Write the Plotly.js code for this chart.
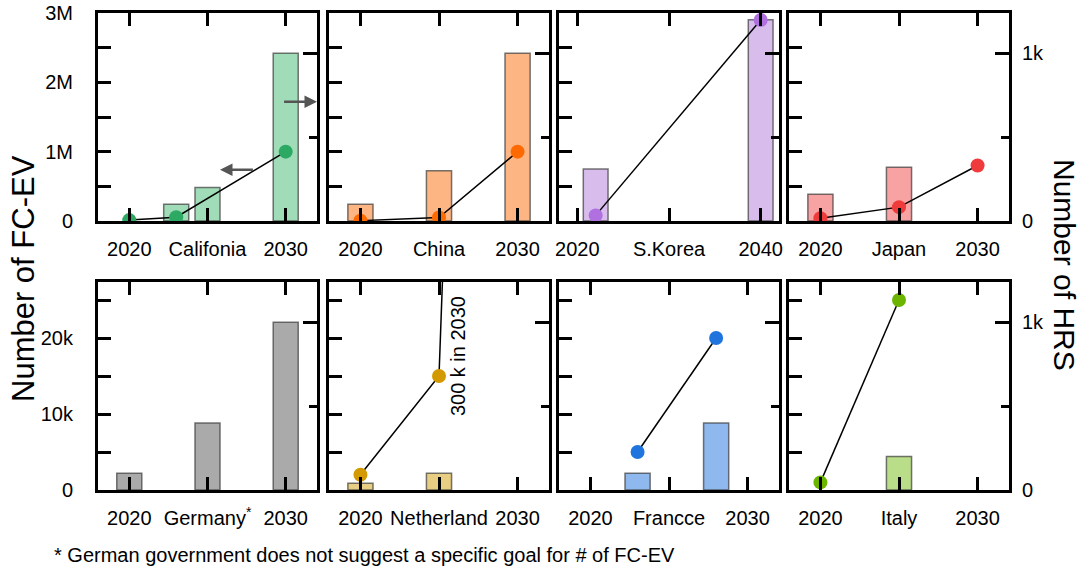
<!DOCTYPE html>
<html>
<head>
<meta charset="utf-8">
<script src="https://cdn.plot.ly/plotly-3.0.1.min.js"></script>
<style>html,body{margin:0;padding:0;background:#fff;} #chart{width:1084px;height:572px;}</style>
</head>
<body>
<div id="chart"></div>
<script>
// ---- Data (HRS = bars on right axis, FC-EV = circles on left axis) ----
const countries = ['Califonia', 'China', 'S.Korea', 'Japan', 'Germany<sup>*</sup>', 'Netherland', 'Francce', 'Italy'];
const endYearLabels = ['2030', '2030', '2040', '2030', '2030', '2030', '2030', '2030'];

const caHrsYears = [2023, 2025, 2030];
const caHrs = [100, 200, 1000];
const caEvYears = [2020, 2023, 2030];
const caEv = [13000, 55000, 1000000];

const cnHrsYears = [2020, 2025, 2030];
const cnHrs = [100, 300, 1000];
const cnEvYears = [2020, 2025, 2030];
const cnEv = [5000, 50000, 1000000];

const krHrsYears = [2022, 2040];
const krHrs = [310, 1200];
const krEvYears = [2022, 2040];
const krEv = [81000, 2900000];

const jpHrsYears = [2020, 2025];
const jpHrs = [160, 320];
const jpEvYears = [2020, 2025, 2030];
const jpEv = [40000, 200000, 800000];

const deHrsYears = [2020, 2025, 2030];
const deHrs = [100, 400, 1000];
const deEvYears = [];
const deEv = [];

const nlHrsYears = [2020, 2025];
const nlHrs = [40, 100];
const nlEvYears = [2020, 2025, 2030];
const nlEv = [2000, 15000, 300000];

const frHrsYears = [2023, 2028];
const frHrs = [100, 400];
const frEvYears = [2023, 2028];
const frEv = [5000, 20000];

const itHrsYears = [2025];
const itHrs = [200];
const itEvYears = [2020, 2025];
const itEv = [1000, 25000];

const yTopTickVals = [0, 500000, 1000000, 1500000, 2000000, 2500000, 3000000];
const yTopTickText = ['0', '', '1M', '', '2M', '', '3M'];
const yBotTickVals = [0, 5000, 10000, 15000, 20000, 25000];
const yBotTickText = ['0', '', '10k', '', '20k', ''];

// ---- Styles ----
const barColors = ['#a0dcb8', '#fdb584', '#d8bcec', '#f7a3a3', '#aaaaaa', '#e8ce82', '#8fb9ee', '#badd8a'];
const dotColors = ['#2caa64', '#ff6a00', '#b070e0', '#ef3b3b', '#888888', '#d29a00', '#1f74de', '#6bb400'];

const panels = [
  [caHrsYears, caHrs, caEvYears, caEv],
  [cnHrsYears, cnHrs, cnEvYears, cnEv],
  [krHrsYears, krHrs, krEvYears, krEv],
  [jpHrsYears, jpHrs, jpEvYears, jpEv],
  [deHrsYears, deHrs, deEvYears, deEv],
  [nlHrsYears, nlHrs, nlEvYears, nlEv],
  [frHrsYears, frHrs, frEvYears, frEv],
  [itHrsYears, itHrs, itEvYears, itEv]
];

const FONT = 'Liberation Sans, Arial, Helvetica, sans-serif';
const W = 1084, H = 572;
const mL = 98, mR = 75, mT = 13, mB = 82;
const plotW = W - mL - mR, plotH = H - mT - mB;
const colStart = [98, 329, 559, 789];
const colEnd = [317, 549, 779, 1009];
const rowTop = [13, 282];
const rowBot = [221, 490];

function id(letter, n) { return n === 1 ? letter : letter + n; }
function key(letter, n) { return n === 1 ? letter + 'axis' : letter + 'axis' + n; }
const px = (x) => (x - mL) / plotW;
const py = (y) => (H - mB - y) / plotH;

const traces = [];
const layout = {
  width: W, height: H,
  margin: {l: mL, r: mR, t: mT, b: mB, pad: 0},
  paper_bgcolor: '#ffffff', plot_bgcolor: 'rgba(0,0,0,0)',
  showlegend: false,
  font: {family: FONT, size: 20, color: '#000'},
  annotations: [],
  bargap: 0
};

for (let i = 0; i < 8; i++) {
  const row = Math.floor(i / 4), col = i % 4;
  const n = i + 1;
  const xId = id('x', n), yR = id('y', n), yL = id('y', n + 8);
  const isKorea = (i === 2);
  const xr = isKorea ? [2018, 2042] : [2018, 2032];
  const mid = isKorea ? 2030 : 2025;
  const last = isKorea ? 2040 : 2030;
  const barW = isKorea ? 2.7 : 1.6;
  const [hy, hv, ey, ev] = panels[i];

  traces.push({
    type: 'bar', x: hy, y: hv, xaxis: xId, yaxis: yR, width: barW,
    marker: {color: barColors[i], line: {color: 'rgba(60,60,60,0.7)', width: 1.5}},
    hoverinfo: 'skip'
  });
  traces.push({
    type: 'scatter', mode: 'lines+markers', x: ey, y: ev, xaxis: xId, yaxis: yL,
    line: {color: '#000', width: 1.5},
    marker: {color: dotColors[i], size: 14},
    cliponaxis: true, hoverinfo: 'skip'
  });

  const xd = [px(colStart[col]), px(colEnd[col])];
  const yd = [py(rowBot[row]), py(rowTop[row])];

  layout[key('x', n)] = {
    domain: xd, range: xr, anchor: yR,
    tickvals: [2020, mid, last], ticktext: ['2020', countries[i], endYearLabels[i]],
    ticks: 'inside', ticklen: 13, tickwidth: 3, tickcolor: '#000',
    showline: true, linewidth: 3, linecolor: '#000', mirror: 'ticks',
    showgrid: false, zeroline: false, ticklabelstandoff: 8,
    tickfont: {family: FONT, size: 20, color: '#000'}, fixedrange: true
  };
  layout[key('y', n)] = {
    domain: yd, range: [0, 1240], anchor: xId, side: 'right',
    tickvals: [0, 1000], ticktext: ['0', '1k'],
    ticks: 'inside', ticklen: 14, tickwidth: 3, tickcolor: '#000',
    minor: {tickvals: [500], ticks: 'inside', ticklen: 8, tickwidth: 3, tickcolor: '#000'},
    showticklabels: col === 3, ticklabelstandoff: 12,
    showline: false, showgrid: false, zeroline: false,
    tickfont: {family: FONT, size: 20, color: '#000'}, fixedrange: true
  };
  layout[key('y', n + 8)] = {
    overlaying: yR, anchor: xId, side: 'left',
    range: row === 0 ? [0, 3000000] : [0, 27370],
    tickvals: row === 0 ? yTopTickVals : yBotTickVals,
    ticktext: row === 0 ? yTopTickText : yBotTickText,
    ticks: 'inside', ticklen: 13, tickwidth: 3, tickcolor: '#000',
    showticklabels: col === 0, ticklabelstandoff: 18,
    showline: true, linewidth: 3, linecolor: '#000', mirror: true,
    showgrid: false, zeroline: false,
    tickfont: {family: FONT, size: 20, color: '#000'}, fixedrange: true
  };
}

// Arrows in the California panel
layout.annotations.push({
  xref: 'x', yref: 'y9', x: 2025.8, y: 740000, axref: 'x', ayref: 'y9', ax: 2028.0, ay: 740000,
  text: '', showarrow: true, arrowhead: 2, arrowsize: 1, arrowwidth: 2.5, arrowcolor: '#555'
});
layout.annotations.push({
  xref: 'x', yref: 'y9', x: 2032, y: 1720000, axref: 'x', ayref: 'y9', ax: 2029.8, ay: 1720000,
  text: '', showarrow: true, arrowhead: 2, arrowsize: 1, arrowwidth: 2.5, arrowcolor: '#555'
});
// Netherland note
layout.annotations.push({
  xref: 'x6', yref: 'y14', x: 2026.2, y: 17600, xanchor: 'center', yanchor: 'middle',
  text: '300 k in 2030', showarrow: false,
  textangle: -90, font: {family: FONT, size: 20, color: '#000'}
});
// Axis titles
layout.annotations.push({
  xref: 'paper', yref: 'paper', x: px(23), y: py(279), xanchor: 'center', yanchor: 'middle',
  text: 'Number of FC-EV', showarrow: false, textangle: -90,
  font: {family: FONT, size: 31, color: '#000'}
});
layout.annotations.push({
  xref: 'paper', yref: 'paper', x: px(1065), y: py(265), xanchor: 'center', yanchor: 'middle',
  text: 'Number of HRS', showarrow: false, textangle: 90,
  font: {family: FONT, size: 30, color: '#000'}
});
// Footnote
layout.annotations.push({
  xref: 'paper', yref: 'paper', x: px(52), y: py(555), xanchor: 'left', yanchor: 'middle',
  text: '* German government does not suggest a specific goal for # of FC-EV',
  showarrow: false, font: {family: FONT, size: 20, color: '#000'}
});

Plotly.newPlot('chart', traces, layout, {displayModeBar: false, staticPlot: true});
</script>
</body>
</html>
